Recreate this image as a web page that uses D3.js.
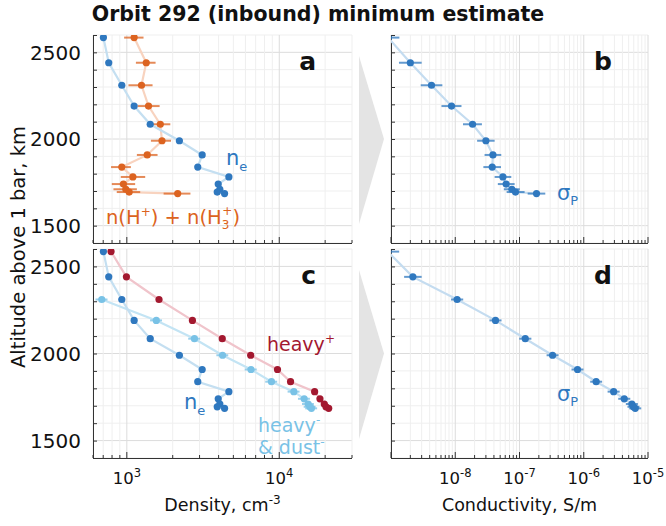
<!DOCTYPE html>
<html><head><meta charset="utf-8">
<script src="https://cdn.jsdelivr.net/npm/d3@7"></script>
<style>html,body{margin:0;padding:0;background:#fff}</style>
</head><body>
<svg id="chart" width="666" height="526"></svg>
<script>
// ---------------- data ----------------
const altitude = [2585, 2440, 2310, 2190, 2085, 1990, 1908, 1838, 1781, 1740, 1710, 1694, 1685];

// electron density (cm^-3)
const ne     = [702, 761, 927, 1117, 1424, 2212, 3121, 2920, 4672, 3978, 4076, 3918, 4377];
const neErr  = [30, 32, 40, 48, 60, 95, 130, 125, 200, 170, 175, 168, 188];

// n(H+) + n(H3+)
const hIon   = [1117, 1341, 1248, 1388, 1658, 1701, 1361, 927, 1096, 950, 985, 1036, 2156];
const hIonLo = [960, 1147, 1025, 1175, 1424, 1439, 1164, 788, 913, 797, 817, 859, 1743];
const hIonHi = [1287, 1544, 1475, 1641, 1929, 1950, 1591, 1063, 1320, 1134, 1164, 1224, 2614];

// heavy positive ions
const heavyPos    = [788, 994, 1626, 2694, 4227, 6494, 9734, 11857, 17062, 18490, 19740, 20250, 21100];
const heavyPosErr = [24, 30, 49, 80, 127, 195, 290, 355, 510, 555, 590, 610, 630];

// heavy negative ions & dust
const heavyNeg    = [null, null, 685, 1561, 2777, 4246, 6524, 8888, 12462, 14572, 15483, 15889, 16255];
const heavyNegErr = [null, null, 62, 140, 250, 380, 590, 800, 1120, 1310, 1390, 1430, 1460];

// Pedersen conductivity (S/m), panel b
const sigmaB   = [9.0e-10, 2.0e-9, 4.27e-9, 8.75e-9, 1.86e-8, 3.0e-8, 3.86e-8, 3.76e-8, 5.52e-8, 6.2e-8, 7.6e-8, 8.67e-8, 1.84e-7];
const sigmaBLo = [6.0e-10, 1.33e-9, 2.9e-9, 6.1e-9, 1.32e-8, 2.19e-8, 2.86e-8, 2.74e-8, 4.1e-8, 4.6e-8, 5.7e-8, 6.3e-8, 1.34e-7];
const sigmaBHi = [1.35e-9, 3.0e-9, 6.3e-9, 1.25e-8, 2.6e-8, 4.1e-8, 5.2e-8, 5.15e-8, 7.45e-8, 8.4e-8, 1.01e-7, 1.2e-7, 2.52e-7];

// Pedersen conductivity (S/m), panel d
const sigmaD   = [8.9e-10, 2.19e-9, 1.07e-8, 4.23e-8, 1.23e-7, 3.27e-7, 8.0e-7, 1.56e-6, 2.92e-6, 4.27e-6, 5.61e-6, 5.94e-6, 6.33e-6];
const sigmaDLo = [5.9e-10, 1.6e-9, 8.6e-9, 3.4e-8, 9.9e-8, 2.64e-7, 6.45e-7, 1.26e-6, 2.35e-6, 3.44e-6, 4.52e-6, 4.79e-6, 5.1e-6];
const sigmaDHi = [1.34e-9, 3.0e-9, 1.33e-8, 5.25e-8, 1.53e-7, 4.05e-7, 9.9e-7, 1.93e-6, 3.62e-6, 5.3e-6, 6.96e-6, 7.37e-6, 7.85e-6];

const yTickLabels = [2500, 2000, 1500];
const densityTickLabels = [{v:1e3, b:"10", e:"3"}, {v:1e4, b:"10", e:"4"}];
const condTickLabels = [{v:1e-8, b:"10", e:"-8"}, {v:1e-7, b:"10", e:"-7"}, {v:1e-6, b:"10", e:"-6"}, {v:1e-5, b:"10", e:"-5"}];

// ---------------- colours ----------------
const C = {
  ne: "#2f78bf", neLine: "#c4dff1",
  h: "#dc6320", hLine: "#f8d3bf",
  pos: "#a3182f", posLine: "#f0c4cb",
  neg: "#79c2e6", negLine: "#c3e4f4",
  sig: "#2f78bf", sigLine: "#c4dcf0"
};
const FONT = "'DejaVu Sans', Verdana, sans-serif";

const svg = d3.select("#chart");

// ---------------- scales ----------------
const L = 93, R = 352, L2 = 391, R2 = 648;
const topY = [35, 243], botY = [249, 458];
const xDen = d3.scaleLog().domain([600, 30000]).range([L, R]);
const xCon = d3.scaleLog().domain([1e-9, 1e-5]).range([L2, R2]);
const yA = d3.scaleLinear().domain([1400, 2600]).range([topY[1], topY[0]]);
const yC = d3.scaleLinear().domain([1400, 2600]).range([botY[1], botY[0]]);

// ---------------- decorative arrows ----------------
function arrow(y0, y1) {
  const xm = 359, xt = 384, ym = (y0 + y1) / 2;
  svg.append("path")
    .attr("d", `M${xm},${y0 + 21} L${xt},${ym} L${xm},${y1 - 19} Z`)
    .attr("fill", "#e4e4e4");
}
arrow(topY[0], topY[1]);
arrow(botY[0], botY[1]);

let clipId = 0;
function panel(x, y, opts) {
  const g = svg.append("g");
  const [x0, x1] = x.range(), [y1, y0] = y.range();
  const yt = d3.range(1400, 2601, 100);
  const xt = x.ticks().filter(v => v >= x.domain()[0] * 0.999 && v <= x.domain()[1] * 1.001);
  const isDecade = v => Math.abs(Math.log10(v) - Math.round(Math.log10(v))) < 1e-6;
  g.selectAll(".gy").data(yt).enter().append("line")
    .attr("x1", x0).attr("x2", x1).attr("y1", d => y(d)).attr("y2", d => y(d))
    .attr("stroke", d => d % 500 === 0 ? "#dcdcdc" : "#efefef").attr("stroke-width", 1);
  g.selectAll(".gx").data(xt).enter().append("line")
    .attr("y1", y0).attr("y2", y1).attr("x1", d => x(d)).attr("x2", d => x(d))
    .attr("stroke", d => isDecade(d) ? "#dcdcdc" : "#efefef").attr("stroke-width", 1);
  g.append("line").attr("x1", x0 + 0.5).attr("x2", x0 + 0.5).attr("y1", y0).attr("y2", y1 + 0.5)
    .attr("stroke", "#333").attr("stroke-width", 1);
  g.append("line").attr("x1", x0).attr("x2", x1).attr("y1", y1 + 0.5).attr("y2", y1 + 0.5)
    .attr("stroke", "#333").attr("stroke-width", 1);
  g.selectAll(".ty").data(yt).enter().append("line")
    .attr("x1", x0).attr("x2", x0 + 4).attr("y1", d => y(d) + 0.5).attr("y2", d => y(d) + 0.5)
    .attr("stroke", "#333");
  g.selectAll(".tx").data(xt).enter().append("line")
    .attr("y1", y1).attr("y2", d => y1 - (isDecade(d) ? 6 : 3)).attr("x1", d => x(d)).attr("x2", d => x(d))
    .attr("stroke", "#333");
  if (opts.yLabels) {
    g.selectAll(".yl").data(yTickLabels).enter().append("text")
      .attr("x", x0 - 12).attr("y", d => y(d)).attr("dy", "0.37em")
      .attr("text-anchor", "end").attr("font-family", FONT).attr("font-size", 20).attr("fill", "#111")
      .text(d => d);
  }
  if (opts.xLabels) {
    const t = g.selectAll(".xl").data(opts.xLabels).enter().append("text")
      .attr("x", d => x(d.v)).attr("y", 484).attr("text-anchor", "middle")
      .attr("font-family", FONT).attr("font-size", 16.5).attr("fill", "#111");
    t.append("tspan").text(d => d.b);
    t.append("tspan").attr("dy", -7).attr("font-size", 11.5).text(d => d.e);
  }
  g.append("text").attr("x", x1 - 36).attr("y", y0 + 35).attr("text-anchor", "end")
    .attr("font-family", FONT).attr("font-weight", "bold").attr("font-size", 25).attr("fill", "#111")
    .text(opts.letter);
  const id = "clip" + (clipId++);
  svg.append("clipPath").attr("id", id).append("rect")
    .attr("x", x0).attr("y", y0).attr("width", x1 - x0).attr("height", y1 - y0);
  return svg.append("g").attr("clip-path", `url(#${id})`);
}

function series(plot, x, y, vals, lo, hi, color, lineColor, r) {
  const pts = altitude.map((a, i) => ({a, v: vals[i], lo: lo[i], hi: hi[i]})).filter(d => d.v != null);
  plot.append("path").datum(pts)
    .attr("d", d3.line().x(d => x(d.v)).y(d => y(d.a)))
    .attr("fill", "none").attr("stroke", lineColor).attr("stroke-width", 2.2);
  plot.selectAll(null).data(pts).enter().append("line")
    .attr("x1", d => x(d.lo)).attr("x2", d => x(d.hi)).attr("y1", d => y(d.a)).attr("y2", d => y(d.a))
    .attr("stroke", color).attr("stroke-width", 2).attr("stroke-opacity", 0.75);
  plot.selectAll(null).data(pts).enter().append("circle")
    .attr("cx", d => x(d.v)).attr("cy", d => y(d.a)).attr("r", r).attr("fill", color);
}
const sym = (v, e) => v.map((d, i) => d == null ? null : d - e[i]);
const syp = (v, e) => v.map((d, i) => d == null ? null : d + e[i]);

const pa = panel(xDen, yA, {yLabels: true, letter: "a"});
series(pa, xDen, yA, hIon, hIonLo, hIonHi, C.h, C.hLine, 3.6);
series(pa, xDen, yA, ne, sym(ne, neErr), syp(ne, neErr), C.ne, C.neLine, 3.6);
const pb = panel(xCon, yA, {letter: "b"});
series(pb, xCon, yA, sigmaB, sigmaBLo, sigmaBHi, C.sig, C.sigLine, 3.6);
const pc = panel(xDen, yC, {yLabels: true, letter: "c", xLabels: densityTickLabels});
series(pc, xDen, yC, heavyNeg, sym(heavyNeg, heavyNegErr), syp(heavyNeg, heavyNegErr), C.neg, C.negLine, 3.6);
series(pc, xDen, yC, ne, sym(ne, neErr), syp(ne, neErr), C.ne, C.neLine, 3.6);
series(pc, xDen, yC, heavyPos, sym(heavyPos, heavyPosErr), syp(heavyPos, heavyPosErr), C.pos, C.posLine, 3.6);
const pd = panel(xCon, yC, {letter: "d", xLabels: condTickLabels});
series(pd, xCon, yC, sigmaD, sigmaDLo, sigmaDHi, C.sig, C.sigLine, 3.6);

// ---------------- annotations ----------------
function label(x, y, parts, color, size) {
  const t = svg.append("text").attr("x", x).attr("y", y).attr("font-family", FONT)
    .attr("font-size", size).attr("fill", color);
  parts.forEach(p => {
    const s = t.append("tspan").text(p.t);
    if (p.dy) s.attr("dy", p.dy);
    if (p.dx) s.attr("dx", p.dx);
    if (p.fs) s.attr("font-size", p.fs);
  });
  return t;
}
label(226, 165, [{t: "n"}, {t: "e", dy: 6, fs: 13}], C.ne, 21);
label(106, 224, [{t: "n(H"}, {t: "+", dy: -8, fs: 12}, {t: ") + n(H", dy: 8}, {t: "3", dy: 5, fs: 12},
  {t: "+", dx: -7, dy: -14, fs: 12}, {t: ")", dy: 9}], C.h, 19.5);
label(557, 200, [{t: "σ"}, {t: "P", dy: 5, fs: 13}], C.sig, 21);
label(267, 351, [{t: "heavy"}, {t: "+", dy: -8, fs: 12}], C.pos, 19);
label(184, 409, [{t: "n"}, {t: "e", dy: 6, fs: 13}], C.ne, 21);
label(258, 432, [{t: "heavy"}, {t: "-", dy: -8, fs: 12}], C.neg, 19);
label(258, 454, [{t: "& dust"}, {t: "-", dy: -8, fs: 12}], C.neg, 19);
label(557, 401, [{t: "σ"}, {t: "P", dy: 5, fs: 13}], C.sig, 21);

// ---------------- titles ----------------
svg.append("text").attr("x", 318).attr("y", 21).attr("text-anchor", "middle")
  .attr("font-family", FONT).attr("font-weight", "bold").attr("font-size", 20.5).attr("fill", "#111")
  .text("Orbit 292 (inbound) minimum estimate");
svg.append("text").attr("transform", "translate(25,247) rotate(-90)").attr("text-anchor", "middle")
  .attr("font-family", FONT).attr("font-size", 19.5).attr("fill", "#111")
  .text("Altitude above 1 bar, km");
const dl = svg.append("text").attr("x", (L + R) / 2).attr("y", 511).attr("text-anchor", "middle")
  .attr("font-family", FONT).attr("font-size", 17.5).attr("fill", "#111");
dl.append("tspan").text("Density, cm");
dl.append("tspan").attr("dy", -7).attr("font-size", 12).text("-3");
svg.append("text").attr("x", (L2 + R2) / 2).attr("y", 511).attr("text-anchor", "middle")
  .attr("font-family", FONT).attr("font-size", 17.5).attr("fill", "#111")
  .text("Conductivity, S/m");
</script>
</body></html>
